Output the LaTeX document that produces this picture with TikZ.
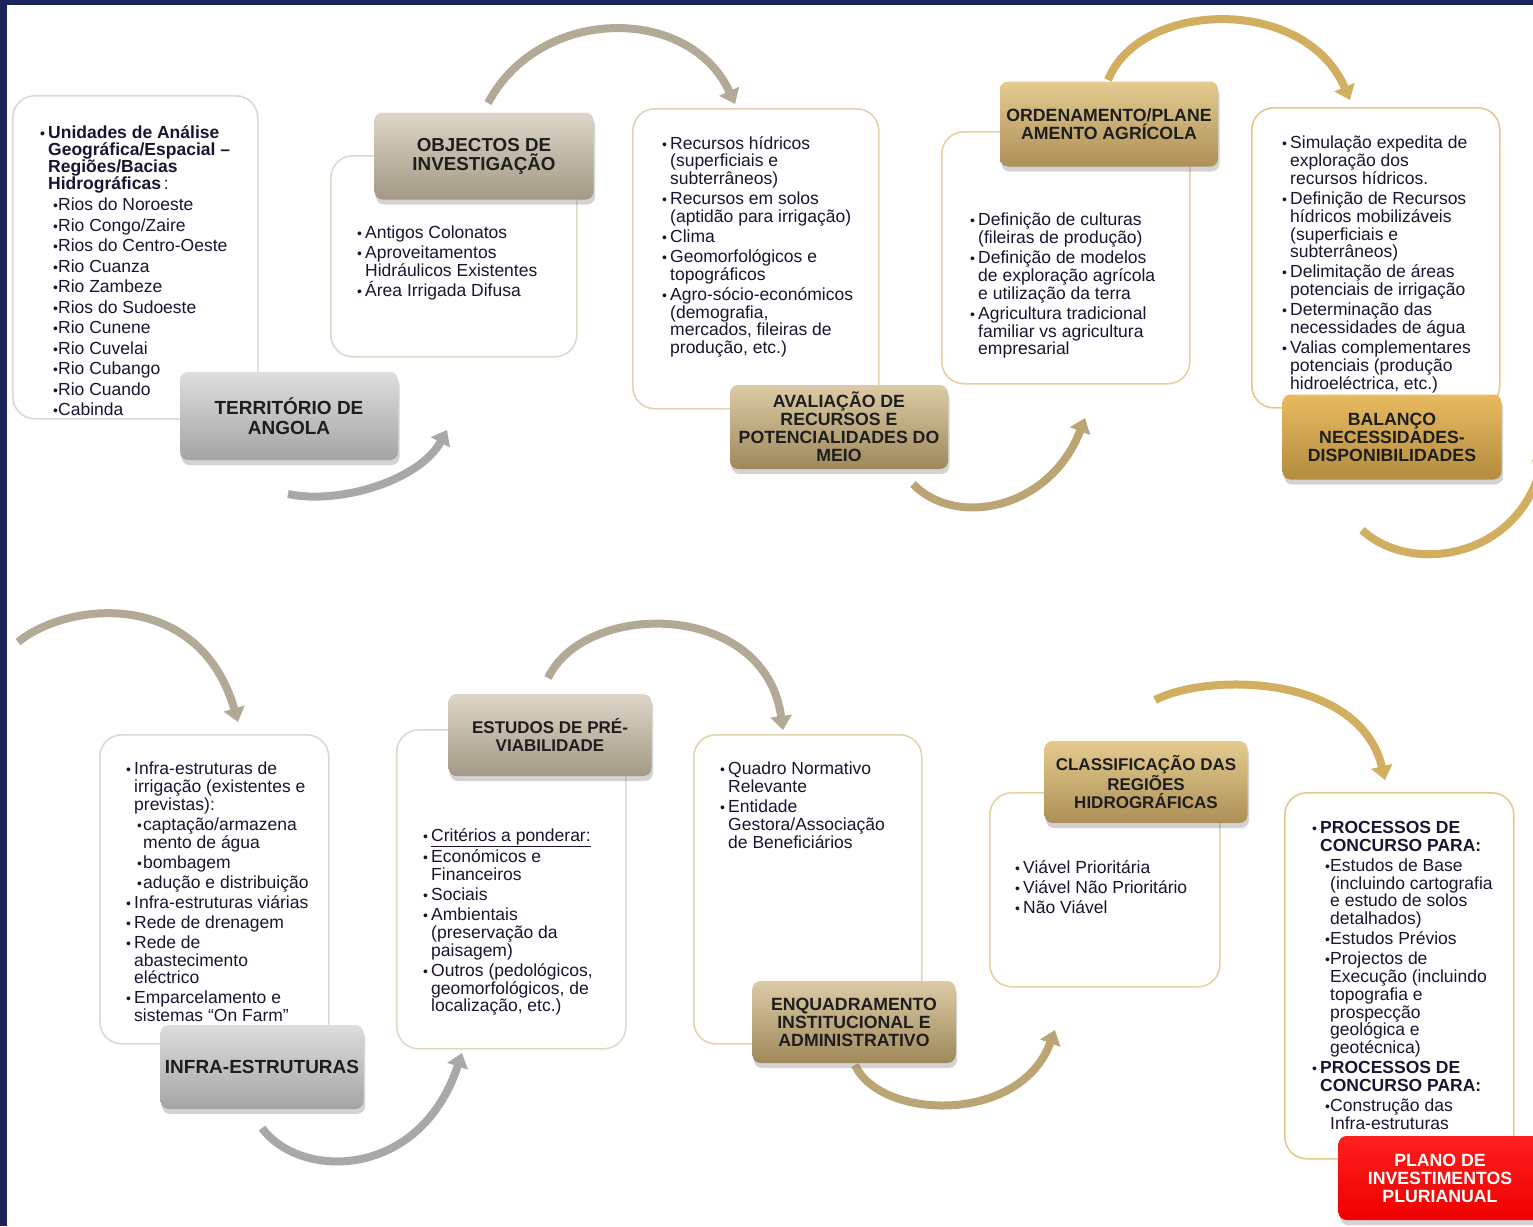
\documentclass[tikz,border=0pt]{standalone}
\usepackage{fontspec}
\setmainfont{Liberation Sans}
\usetikzlibrary{arrows.meta,shadows,positioning}

\definecolor{navy}{HTML}{1D2459}
\definecolor{ink}{HTML}{161630}
\definecolor{labink}{HTML}{1E1E1E}
\definecolor{lnGray}{HTML}{D9D9D9}
\definecolor{lnTaupe}{HTML}{E0D8C8}
\definecolor{lnTan}{HTML}{E2D3B2}
\definecolor{lnGold}{HTML}{E6D2A0}
\definecolor{lnAmber}{HTML}{E4C98E}
\definecolor{gyTop}{HTML}{DEDEDE}\definecolor{gyBot}{HTML}{A4A4A4}
\definecolor{tpTop}{HTML}{DDD6C8}\definecolor{tpBot}{HTML}{A39985}
\definecolor{tnTop}{HTML}{DCCBA6}\definecolor{tnBot}{HTML}{9F895B}
\definecolor{gdTop}{HTML}{E5CB90}\definecolor{gdBot}{HTML}{AD9057}
\definecolor{amTop}{HTML}{E9BA60}\definecolor{amBot}{HTML}{B28C40}
\definecolor{rdTop}{HTML}{FF1E1E}\definecolor{rdBot}{HTML}{EE0000}
\definecolor{arGray}{HTML}{A8A8A8}
\definecolor{arTaupe}{HTML}{B2A996}
\definecolor{arTan}{HTML}{BBA575}
\definecolor{arGold}{HTML}{D2AE60}

\newcommand{\bul}[1][8pt]{\makebox[#1][l]{\fontsize{14}{14}\selectfont\textbullet}}
\newcommand{\ind}[1][8pt]{\hspace*{#1}}
\newcommand{\nx}{\\[2.2pt]}

\begin{document}
\begin{tikzpicture}[x=1pt,y=-1pt,
	body/.style={anchor=north west,inner sep=0pt,align=left,text=ink,font=\fontsize{17.5}{17.8}\selectfont},
	tbox/.style={draw=#1,line width=1.6pt,fill=white,rounded corners=22pt,anchor=north west},
	lab/.style={rounded corners=8pt,align=center,text=labink,inner sep=2pt,
		font=\bfseries\fontsize{17.7}{18}\selectfont,minimum width=203pt,minimum height=82pt,
		drop shadow={opacity=0.35,shadow xshift=1.5pt,shadow yshift=-5pt}},
	grey/.style={top color=gyTop,bottom color=gyBot},
	taupe/.style={top color=tpTop,bottom color=tpBot},
	tan/.style={top color=tnTop,bottom color=tnBot},
	gold/.style={top color=gdTop,bottom color=gdBot},
	amber/.style={top color=amTop,bottom color=amBot},
	flow/.style={draw=#1,line width=8pt,-{Triangle[width=21pt,length=14pt]}}]

\useasboundingbox (0,0) rectangle (1533,1226);
\fill[navy] (0,0) rectangle (1533,5);
\fill[navy] (0,0) rectangle (7,1226);

% arrows
\coordinate (a1s) at (288,494);  \coordinate (a1e) at (447,430);
\coordinate (a2s) at (488,103);  \coordinate (a2e) at (735,104);
\coordinate (a3s) at (913,484);  \coordinate (a3e) at (1085,418);
\coordinate (a4s) at (1108,80);  \coordinate (a4e) at (1350,100);
\coordinate (a5s) at (1362,530); \coordinate (a5e) at (1545,450);
\coordinate (a6s) at (18,642);   \coordinate (a6e) at (238,722);
\coordinate (a7s) at (262,1128); \coordinate (a7e) at (462,1053);
\coordinate (a8s) at (548,678);  \coordinate (a8e) at (783,730);
\coordinate (a9s) at (855,1065); \coordinate (a9e) at (1055,1030);
\coordinate (a10s) at (1155,700); \coordinate (a10e) at (1385,780);

\draw[flow=arGray] (a1s) .. controls (340,505) and (420,480) .. (a1e);
\draw[flow=arTaupe] (a2s) .. controls (540,5) and (690,5) .. (a2e);
\draw[flow=arTan] (a3s) .. controls (955,528) and (1050,510) .. (a3e);
\draw[flow=arGold] (a4s) .. controls (1140,0) and (1305,-5) .. (a4e);
\draw[flow=arGold] (a5s) .. controls (1410,575) and (1520,560) .. (a5e);
\draw[flow=arTaupe] (a6s) .. controls (70,600) and (200,590) .. (a6e);
\draw[flow=arGray] (a7s) .. controls (300,1180) and (420,1180) .. (a7e);
\draw[flow=arTaupe] (a8s) .. controls (585,600) and (765,600) .. (a8e);
\draw[flow=arTan] (a9s) .. controls (880,1120) and (1020,1125) .. (a9e);
\draw[flow=arGold] (a10s) .. controls (1210,672) and (1360,675) .. (a10e);

% text boxes
\node[tbox=lnGray,minimum width=245pt,minimum height=323pt] (tb1) at (12,95) {};
\node[tbox=lnTaupe,minimum width=246pt,minimum height=201pt] (tb2) at (330,155) {};
\node[tbox=lnTan,minimum width=246pt,minimum height=300pt] (tb3) at (632,108) {};
\node[tbox=lnGold,minimum width=248pt,minimum height=252pt] (tb4) at (941,131) {};
\node[tbox=lnAmber,minimum width=248pt,minimum height=300pt] (tb5) at (1251,107) {};
\node[tbox=lnGray,minimum width=229pt,minimum height=309pt] (tb6) at (99,734) {};
\node[tbox=lnTaupe,minimum width=229pt,minimum height=319pt] (tb7) at (396,729) {};
\node[tbox=lnTan,minimum width=228pt,minimum height=309pt] (tb8) at (693,734) {};
\node[tbox=lnGold,minimum width=230pt,minimum height=194pt] (tb9) at (989,792) {};
\node[tbox=lnAmber,minimum width=229pt,minimum height=366pt] (tb10) at (1284,792) {};

% texts
\node[body,font=\bfseries\fontsize{17.5}{17.3}\selectfont] (t1a) at (40,125)
	{\bul Unidades de Análise\\ \ind Geográfica/Espacial –\\ \ind Regiões/Bacias\\ \ind Hidrográficas{\mdseries\,:}};
\node[body,font=\fontsize{17.5}{20.5}\selectfont] (t1b) at (53,198)
	{\bul[5pt]Rios do Noroeste\\ \bul[5pt]Rio Congo/Zaire\\ \bul[5pt]Rios do Centro-Oeste\\ \bul[5pt]Rio Cuanza\\
	 \bul[5pt]Rio Zambeze\\ \bul[5pt]Rios do Sudoeste\\ \bul[5pt]Rio Cunene\\ \bul[5pt]Rio Cuvelai\\
	 \bul[5pt]Rio Cubango\\ \bul[5pt]Rio Cuando\\ \bul[5pt]Cabinda};
\node[body] (t2) at (357,226)
	{\bul Antigos Colonatos\nx \bul Aproveitamentos\\ \ind Hidráulicos Existentes\nx \bul Área Irrigada Difusa};
\node[body] (t3) at (662,136)
	{\bul Recursos hídricos\\ \ind (superficiais e\\ \ind subterrâneos)\nx
	 \bul Recursos em solos\\ \ind (aptidão para irrigação)\nx \bul Clima\nx
	 \bul Geomorfológicos e\\ \ind topográficos\nx
	 \bul Agro-sócio-económicos\\ \ind (demografia,\\ \ind mercados, fileiras de\\ \ind produção, etc.)};
\node[body] (t4) at (970,213)
	{\bul Definição de culturas\\ \ind (fileiras de produção)\nx
	 \bul Definição de modelos\\ \ind de exploração agrícola\\ \ind e utilização da terra\nx
	 \bul Agricultura tradicional\\ \ind familiar vs agricultura\\ \ind empresarial};
\node[body] (t5) at (1282,136)
	{\bul Simulação expedita de\\ \ind exploração dos\\ \ind recursos hídricos.\nx
	 \bul Definição de Recursos\\ \ind hídricos mobilizáveis\\ \ind (superficiais e\\ \ind subterrâneos)\nx
	 \bul Delimitação de áreas\\ \ind potenciais de irrigação\nx
	 \bul Determinação das\\ \ind necessidades de água\nx
	 \bul Valias complementares\\ \ind potenciais (produção\\ \ind hidroeléctrica, etc.)};
\node[body] (t6) at (126,762)
	{\bul Infra-estruturas de\\ \ind irrigação (existentes e\\ \ind previstas):\nx
	 \ind[11pt]\bul[6pt]captação/armazena\\ \ind[17pt]mento de água\nx
	 \ind[11pt]\bul[6pt]bombagem\nx \ind[11pt]\bul[6pt]adução e distribuição\nx
	 \bul Infra-estruturas viárias\nx \bul Rede de drenagem\nx
	 \bul Rede de\\ \ind abastecimento\\ \ind eléctrico\nx
	 \bul Emparcelamento e\\ \ind sistemas “On Farm”};
\node[body] (t7) at (423,828)
	{\bul \underline{Critérios a ponderar:}\nx \bul Económicos e\\ \ind Financeiros\nx \bul Sociais\nx
	 \bul Ambientais\\ \ind (preservação da\\ \ind paisagem)\nx
	 \bul Outros (pedológicos,\\ \ind geomorfológicos, de\\ \ind localização, etc.)};
\node[body] (t8) at (720,762)
	{\bul Quadro Normativo\\ \ind Relevante\nx \bul Entidade\\ \ind Gestora/Associação\\ \ind de Beneficiários};
\node[body] (t9) at (1015,860)
	{\bul Viável Prioritária\nx \bul Viável Não Prioritário\nx \bul Não Viável};
\node[body] (t10) at (1312,821)
	{\bul \textbf{PROCESSOS DE}\\ \ind\textbf{CONCURSO PARA:}\nx
	 \ind[13pt]\bul[5pt]Estudos de Base\\ \ind[18pt](incluindo cartografia\\ \ind[18pt]e estudo de solos\\ \ind[18pt]detalhados)\nx
	 \ind[13pt]\bul[5pt]Estudos Prévios\nx
	 \ind[13pt]\bul[5pt]Projectos de\\ \ind[18pt]Execução (incluindo\\ \ind[18pt]topografia e\\ \ind[18pt]prospecção\\ \ind[18pt]geológica e\\ \ind[18pt]geotécnica)\nx
	 \bul \textbf{PROCESSOS DE}\\ \ind\textbf{CONCURSO PARA:}\nx
	 \ind[13pt]\bul[5pt]Construção das\\ \ind[18pt]Infra-estruturas};

% labels
\node[lab,grey,minimum width=218pt,minimum height=88pt,font=\bfseries\fontsize{19}{20}\selectfont] (lab1) at (289,416) {TERRITÓRIO DE\\ANGOLA};
\node[lab,taupe,minimum width=219pt,minimum height=87pt,font=\bfseries\fontsize{18.8}{19}\selectfont] (lab2) at (484,156) {OBJECTOS DE\\INVESTIGAÇÃO};
\node[lab,tan,minimum width=218pt,minimum height=84pt] (lab3) at (839,427) {AVALIAÇÃO DE\\RECURSOS E\\POTENCIALIDADES DO\\MEIO};
\node[lab,gold,minimum width=218pt,minimum height=85pt] (lab4) at (1109,124) {ORDENAMENTO/PLANE\\AMENTO AGRÍCOLA};
\node[lab,amber,minimum width=219pt,minimum height=85pt] (lab5) at (1392,437) {BALANÇO\\NECESSIDADES-\\DISPONIBILIDADES};
\node[lab,grey,minimum height=84pt,font=\bfseries\fontsize{19}{20}\selectfont] (lab6) at (262,1067) {INFRA-ESTRUTURAS};
\node[lab,taupe,font=\bfseries\fontsize{17}{18}\selectfont] (lab7) at (550,735) {ESTUDOS DE PRÉ-\\VIABILIDADE};
\node[lab,tan] (lab8) at (854,1022) {ENQUADRAMENTO\\INSTITUCIONAL E\\ADMINISTRATIVO};
\node[lab,gold,font=\bfseries\fontsize{17}{18}\selectfont] (lab9) at (1146,782) {CLASSIFICAÇÃO DAS\\REGIÕES\\HIDROGRÁFICAS};
\node[lab,top color=rdTop,bottom color=rdBot,text=white,minimum height=84pt] (lab10) at (1440,1178) {PLANO DE\\INVESTIMENTOS\\PLURIANUAL};

\end{tikzpicture}
\end{document}
